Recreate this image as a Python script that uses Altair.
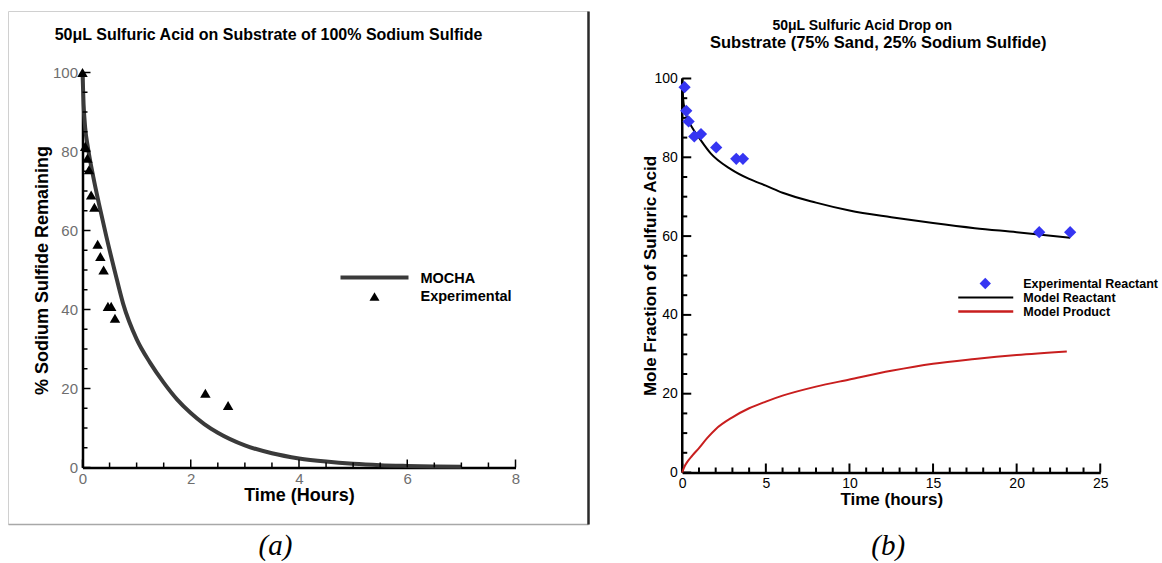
import altair as alt
import pandas as pd

FONT = "Liberation Sans"

# ---------------- Panel (a) data ----------------
mocha_t = [0, 0.02, 0.05, 0.1, 0.2, 0.3, 0.44, 0.6, 0.75, 1.0, 1.25, 1.5, 1.75, 2.0, 2.25, 2.5, 3.0, 3.5, 4.0, 4.5, 5.0, 5.5, 6.0, 6.5, 7.0]
mocha_pct = [100, 92, 86, 81, 73.5, 67, 58.5, 49.5, 41.5, 32.5, 26.5, 21.5, 17.2, 13.8, 11.0, 8.8, 5.6, 3.6, 2.3, 1.5, 0.95, 0.6, 0.4, 0.25, 0.16]
exp_a_t = [0, 0.05, 0.09, 0.12, 0.16, 0.22, 0.28, 0.33, 0.39, 0.47, 0.53, 0.6, 2.27, 2.69]
exp_a_pct = [100, 81.3, 78.3, 75.4, 69, 65.9, 56.5, 53.4, 50, 40.8, 40.8, 37.8, 18.8, 15.7]

# ---------------- Panel (b) data ----------------
exp_b_t = [0.14, 0.24, 0.38, 0.72, 1.12, 2.03, 3.23, 3.63, 21.35, 23.2]
exp_b_y = [97.8, 91.8, 89.1, 85.3, 85.9, 82.5, 79.6, 79.6, 61, 61]
react_t = [0, 0.05, 0.15, 0.3, 0.6, 1.0, 1.7, 2.9, 4, 5, 6, 8, 10, 12.5, 15, 17.5, 20, 23.2]
react_y = [100, 95, 92, 90, 87.5, 85, 81, 77, 74.5, 72.8, 71, 68.5, 66.5, 64.8, 63.3, 62, 61, 59.6]
prod_t = [0, 0.1, 0.3, 0.6, 1, 1.5, 2, 3, 4, 5, 6, 8, 10, 12.5, 15, 17.5, 20, 23]
prod_y = [0, 1.2, 2.7, 4.3, 6.2, 8.8, 11, 14, 16.3, 18, 19.5, 21.8, 23.6, 25.8, 27.6, 28.8, 29.8, 30.7]

# axis tick positions (major / minor)
major_a_x = [0, 2, 4, 6, 8]
minor_a_x = [0.5, 1, 1.5, 2.5, 3, 3.5, 4.5, 5, 5.5, 6.5, 7, 7.5]
major_a_y = [0, 20, 40, 60, 80, 100]
minor_a_y = [5, 10, 15, 25, 30, 35, 45, 50, 55, 65, 70, 75, 85, 90, 95]
major_b_x = [0, 5, 10, 15, 20, 25]
minor_b_x = [1, 2, 3, 4, 6, 7, 8, 9, 11, 12, 13, 14, 16, 17, 18, 19, 21, 22, 23, 24]
major_b_y = [0, 20, 40, 60, 80, 100]
minor_b_y = [5, 10, 15, 25, 30, 35, 45, 50, 55, 65, 70, 75, 85, 90, 95]

W1, H1 = 433, 395
W2, H2 = 418, 400

one = pd.DataFrame({"k": [0]})


def text(txt, x, y, size, weight="bold", align="left", color="black", font=FONT, style="normal"):
    return alt.Chart(one).mark_text(
        text=txt, font=font, fontSize=size, fontWeight=weight, fontStyle=style,
        align=align, baseline="middle", color=color
    ).encode(x=alt.value(x), y=alt.value(y))


def hline(x1, x2, y, color, width):
    return alt.Chart(one).mark_rule(color=color, strokeWidth=width).encode(
        x=alt.value(x1), x2=alt.value(x2), y=alt.value(y))


def vline(x, y1, y2, color, width):
    return alt.Chart(one).mark_rule(color=color, strokeWidth=width).encode(
        x=alt.value(x), y=alt.value(y1), y2=alt.value(y2))


def xticks(vals, scale, h, length, width):
    return alt.Chart(pd.DataFrame({"t": vals})).mark_rule(color="black", strokeWidth=width).encode(
        x=alt.X("t:Q", scale=scale), y=alt.value(h), y2=alt.value(h - length))


def yticks(vals, scale, length, width):
    return alt.Chart(pd.DataFrame({"v": vals})).mark_rule(color="black", strokeWidth=width).encode(
        y=alt.Y("v:Q", scale=scale), x=alt.value(0), x2=alt.value(length))


# ---------------- Panel (a) ----------------
df_mocha = pd.DataFrame({"t": mocha_t, "v": mocha_pct})
df_exp_a = pd.DataFrame({"t": exp_a_t, "v": exp_a_pct})
sx_a = alt.Scale(domain=[0, 8], nice=False, zero=False)
sy_a = alt.Scale(domain=[0, 100], nice=False, zero=False)

lab_col_a = "#6e6e6e"
x_axis_a = alt.Axis(orient="bottom", values=major_a_x, ticks=False, grid=False,
                    labelFlush=False, labelPadding=4, labelColor=lab_col_a, labelFont=FONT,
                    labelFontSize=15, domainColor="black", domainWidth=2.5,
                    title="Time (Hours)", titleFont=FONT, titleFontSize=18, titleFontWeight="bold",
                    titleColor="black", titleY=28, titleBaseline="middle")
y_axis_a = alt.Axis(orient="left", values=major_a_y, ticks=False, grid=False,
                    labelFlush=False, labelPadding=5, labelColor=lab_col_a, labelFont=FONT,
                    labelFontSize=15, domainColor="black", domainWidth=2.5,
                    title="% Sodium Sulfide Remaining", titleFont=FONT, titleFontSize=18,
                    titleFontWeight="bold", titleColor="black", titleX=-40, titleY=H1 / 2,
                    titleBaseline="middle", titleAngle=-90)

line_a = alt.Chart(df_mocha).mark_line(color="#3a3a3a", strokeWidth=4, interpolate="monotone").encode(
    x=alt.X("t:Q", scale=sx_a, axis=x_axis_a),
    y=alt.Y("v:Q", scale=sy_a, axis=y_axis_a),
)
pts_a = alt.Chart(df_exp_a).mark_point(shape="triangle-up", filled=True, color="black", size=110, opacity=1).encode(
    x=alt.X("t:Q", scale=sx_a),
    y=alt.Y("v:Q", scale=sy_a),
)

frame_a = alt.Chart(one).mark_rect(fillOpacity=0, stroke="#d0d0d0", strokeWidth=1).encode(
    x=alt.value(-74), x2=alt.value(506), y=alt.value(-61), y2=alt.value(452))

panel_a = alt.layer(
    line_a,
    frame_a,
    hline(-74, 506, 452, "#a8a8a8", 1.5),
    vline(506, -61, 452, "#2a2a2a", 2.5),
    text("50\u03bcL Sulfuric Acid on Substrate of 100% Sodium Sulfide", 186, -38, 16, align="center"),
    xticks(major_a_x, sx_a, H1, 8, 1.5),
    xticks(minor_a_x, sx_a, H1, 5, 1.5),
    yticks(major_a_y, sy_a, 8, 1.5),
    yticks(minor_a_y, sy_a, 5, 1.5),
    pts_a,
    hline(258, 326, 205, "#3a3a3a", 4),
    alt.Chart(one).mark_point(shape="triangle-up", filled=True, color="black", size=100, opacity=1).encode(
        x=alt.value(292), y=alt.value(224)),
    text("MOCHA", 338, 206, 14.5),
    text("Experimental", 338, 224, 14.5),
    text("(a)", 193, 473, 29, weight="normal", align="center", font="Liberation Serif", style="italic"),
).properties(width=W1, height=H1)

# ---------------- Panel (b) ----------------
df_exp_b = pd.DataFrame({"t": exp_b_t, "v": exp_b_y})
df_react = pd.DataFrame({"t": react_t, "v": react_y})
df_prod = pd.DataFrame({"t": prod_t, "v": prod_y})
df_ydom = pd.DataFrame({"v": [0], "v2": [100]})
sx_b = alt.Scale(domain=[0, 25], nice=False, zero=False)
sy_b = alt.Scale(domain=[0, 101.52], nice=False, zero=False)

x_axis_b = alt.Axis(orient="bottom", values=major_b_x, ticks=False, grid=False,
                    labelFlush=False, labelPadding=4, labelColor="black", labelFont=FONT,
                    labelFontSize=14, domainColor="black", domainWidth=2.5,
                    title="Time (hours)", titleFont=FONT, titleFontSize=17, titleFontWeight="bold",
                    titleColor="black", titleY=27, titleBaseline="middle")
y_axis_b = alt.Axis(orient="left", values=major_b_y, ticks=False, grid=False, domain=False,
                    labelFlush=False, labelPadding=5, labelColor="black", labelFont=FONT,
                    labelFontSize=14,
                    title="Mole Fraction of Sulfuric Acid", titleFont=FONT, titleFontSize=17,
                    titleFontWeight="bold", titleColor="black", titleX=-32, titleY=203,
                    titleBaseline="middle", titleAngle=-90)

react_line = alt.Chart(df_react).mark_line(color="black", strokeWidth=2, interpolate="monotone").encode(
    x=alt.X("t:Q", scale=sx_b, axis=x_axis_b),
    y=alt.Y("v:Q", scale=sy_b, axis=y_axis_b),
)
prod_line = alt.Chart(df_prod).mark_line(color="#c81e1e", strokeWidth=2, interpolate="monotone").encode(
    x=alt.X("t:Q", scale=sx_b),
    y=alt.Y("v:Q", scale=sy_b),
)
pts_b = alt.Chart(df_exp_b).mark_point(shape="diamond", filled=True, color="#3535f2", size=150, opacity=1).encode(
    x=alt.X("t:Q", scale=sx_b),
    y=alt.Y("v:Q", scale=sy_b),
)
ydom_b = alt.Chart(df_ydom).mark_rule(color="black", strokeWidth=2.5).encode(
    x=alt.value(0), y=alt.Y("v:Q", scale=sy_b), y2="v2:Q")

space_b = alt.Chart(one).mark_rect(opacity=0).encode(
    x=alt.value(-82), x2=alt.value(468), y=alt.value(-61), y2=alt.value(459))

panel_b = alt.layer(
    react_line,
    space_b,
    text("50\u03bcL Sulfuric Acid Drop on", 180, -47, 14, align="center"),
    text("Substrate (75% Sand, 25% Sodium Sulfide)", 196, -30, 16.5, align="center"),
    ydom_b,
    xticks(major_b_x, sx_b, H2, 9, 2),
    xticks(minor_b_x, sx_b, H2, 5, 2),
    yticks(major_b_y, sy_b, 9, 2),
    yticks(minor_b_y, sy_b, 5, 2),
    prod_line,
    pts_b,
    alt.Chart(one).mark_point(shape="diamond", filled=True, color="#3535f2", size=130, opacity=1).encode(
        x=alt.value(303), y=alt.value(211)),
    hline(276, 331, 225, "black", 2),
    hline(276, 331, 239, "#c81e1e", 2.5),
    text("Experimental Reactant", 341, 211, 12.5),
    text("Model Reactant", 341, 225, 12.5),
    text("Model Product", 341, 239, 12.5),
    text("(b)", 206, 473, 29, weight="normal", align="center", font="Liberation Serif", style="italic"),
).properties(width=W2, height=H2)

chart = alt.hconcat(panel_a, panel_b, spacing=9.75).properties(
    padding={"left": 7.5, "top": 9.5, "right": 0, "bottom": 0},
    background="white",
).configure_view(strokeWidth=0)

chart.save("out.html", embed_options={"renderer": "svg", "actions": False})
